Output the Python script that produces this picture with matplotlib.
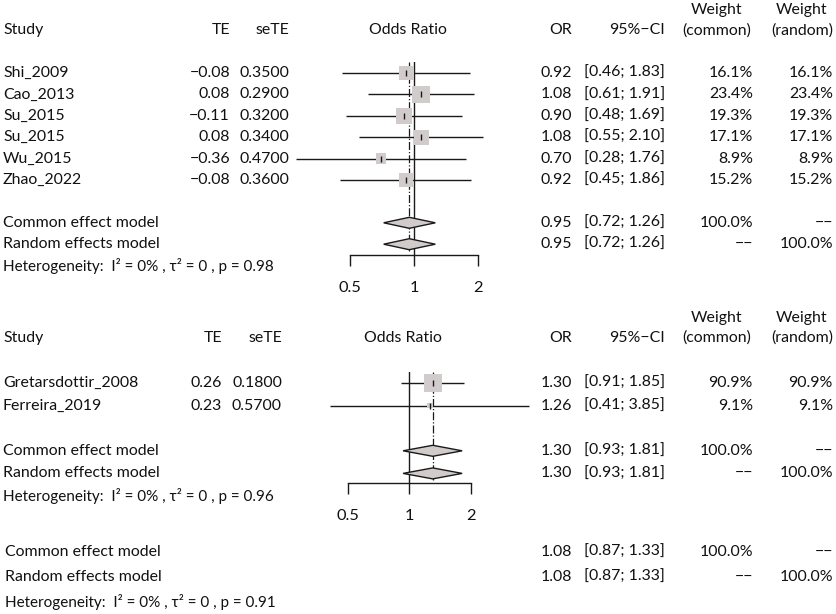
import numpy as np
import matplotlib
matplotlib.use('Agg')
import matplotlib.pyplot as plt
from matplotlib.ticker import FixedLocator, FixedFormatter, NullLocator

plt.rcParams['font.family'] = ['Lato', 'DejaVu Sans']

# ---- data: panel 1 ----
studies1 = ['Shi_2009', 'Cao_2013', 'Su_2015', 'Su_2015', 'Wu_2015', 'Zhao_2022']
te1 = [-0.08, 0.08, -0.11, 0.08, -0.36, -0.08]
sete1 = [0.35, 0.29, 0.32, 0.34, 0.47, 0.36]
or1 = [0.92, 1.08, 0.90, 1.08, 0.70, 0.92]
lo1 = [0.46, 0.61, 0.48, 0.55, 0.28, 0.45]
hi1 = [1.83, 1.91, 1.69, 2.10, 1.76, 1.86]
w1 = [16.1, 23.4, 19.3, 17.1, 8.9, 15.2]
pool1 = [0.95, 0.72, 1.26]
p_het1 = 0.98

# ---- data: panel 2 ----
studies2 = ['Gretarsdottir_2008', 'Ferreira_2019']
te2 = [0.26, 0.23]
sete2 = [0.18, 0.57]
or2 = [1.30, 1.26]
lo2 = [0.91, 0.41]
hi2 = [1.85, 3.85]
w2 = [90.9, 9.1]
pool2 = [1.30, 0.93, 1.81]
p_het2 = 0.96

# ---- overall ----
pool_all = [1.08, 0.87, 1.33]
p_het_all = 0.91

ticks = [0.5, 1, 2]
tick_labels = ['0.5', '1', '2']

W, H = 837, 614
FS = 11.4
FS_HET = 11.0
TXT = '#111111'
BOX = '#d2cbcb'
LINE = '#1a1a1a'

fig = plt.figure(figsize=(W / 100, H / 100), dpi=100)
tx = fig.add_axes([0, 0, 1, 1])
tx.set_xlim(0, W)
tx.set_ylim(H, 0)
tx.axis('off')

# column positions (px)
C_OR, C_CI, C_WC, C_WR = 572, 665, 717, 802
C_WC_R, C_WR_R = 753, 833


def fmt_num(v, nd):
    s = f'{v:.{nd}f}'
    return s.replace('-', '\u2212')


def het_text(p):
    return f'Heterogeneity:  I\u00b2 = 0% , \u03c4\u00b2 = 0 , p = {p:.2f}'


def summary_rows(y_c, y_r, y_h, pool, p, x0=3):
    tx.text(x0, y_c, 'Common effect model', fontsize=FS, va='center', color=TXT)
    tx.text(x0, y_r, 'Random effects model', fontsize=FS, va='center', color=TXT)
    tx.text(x0, y_h, het_text(p), fontsize=FS_HET, va='center', color=TXT)
    ci = f'[{pool[1]:.2f}; {pool[2]:.2f}]'
    for yy, wc, wr in [(y_c, '100.0%', '\u2212\u2212'), (y_r, '\u2212\u2212', '100.0%')]:
        tx.text(C_OR, yy, f'{pool[0]:.2f}', fontsize=FS, va='center', ha='right', color=TXT)
        tx.text(C_CI, yy, ci, fontsize=FS, va='center', ha='right', color=TXT)
        tx.text(C_WC_R, yy, wc, fontsize=FS, va='center', ha='right', color=TXT)
        tx.text(C_WR_R, yy, wr, fontsize=FS, va='center', ha='right', color=TXT)


def panel(studies, te, sete, ors, lo, hi, w, pool, p, y0, pitch,
          x_te, x_se, x_half, x_two, base_px, x_title):
    n = len(studies)
    rows = np.arange(n)
    r_c, r_r = n + 1, n + 2
    ypx = lambda r: y0 + pitch * r

    # header
    yh = ypx(-2)
    tx.text(3, yh, 'Study', fontsize=FS, va='center', color=TXT)
    tx.text(x_te, yh, 'TE', fontsize=FS, va='center', ha='right', color=TXT)
    tx.text(x_se, yh, 'seTE', fontsize=FS, va='center', ha='right', color=TXT)
    tx.text(x_title, yh, 'Odds Ratio', fontsize=FS, va='center', ha='center', color=TXT)
    tx.text(C_OR, yh, 'OR', fontsize=FS, va='center', ha='right', color=TXT)
    tx.text(C_CI, yh, '95%\u2212CI', fontsize=FS, va='center', ha='right', color=TXT)
    tx.text(C_WC, yh - 20, 'Weight', fontsize=FS, va='center', ha='center', color=TXT)
    tx.text(C_WC, yh, '(common)', fontsize=FS, va='center', ha='center', color=TXT)
    tx.text(C_WR, yh - 20, 'Weight', fontsize=FS, va='center', ha='center', color=TXT)
    tx.text(C_WR, yh, '(random)', fontsize=FS, va='center', ha='center', color=TXT)

    for i in rows:
        yy = ypx(i)
        tx.text(3, yy, studies[i], fontsize=FS, va='center', color=TXT)
        tx.text(x_te, yy, fmt_num(te[i], 2), fontsize=FS, va='center', ha='right', color=TXT)
        tx.text(x_se, yy, f'{sete[i]:.4f}', fontsize=FS, va='center', ha='right', color=TXT)
        tx.text(C_OR, yy, f'{ors[i]:.2f}', fontsize=FS, va='center', ha='right', color=TXT)
        tx.text(C_CI, yy, f'[{lo[i]:.2f}; {hi[i]:.2f}]', fontsize=FS, va='center', ha='right', color=TXT)
        tx.text(C_WC_R, yy, f'{w[i]:.1f}%', fontsize=FS, va='center', ha='right', color=TXT)
        tx.text(C_WR_R, yy, f'{w[i]:.1f}%', fontsize=FS, va='center', ha='right', color=TXT)

    summary_rows(ypx(r_c), ypx(r_r), ypx(r_r + 1), pool, p)

    # forest axes: x=0.5 at x_half px, x=2 at x_two px, bottom at axis baseline
    top_px = ypx(-0.5)
    ax = fig.add_axes([x_half / W, 1 - base_px / H, (x_two - x_half) / W, (base_px - top_px) / H])
    ax.set_xscale('log', base=2)
    ax.set_xlim(0.5, 2)
    ax.set_ylim((base_px - y0) / pitch, -0.5)
    ax.patch.set_visible(False)
    for s in ['top', 'left', 'right']:
        ax.spines[s].set_visible(False)
    ax.spines['bottom'].set_linewidth(1.0)
    ax.spines['bottom'].set_color(LINE)
    ax.xaxis.set_major_locator(FixedLocator(ticks))
    ax.xaxis.set_major_formatter(FixedFormatter(tick_labels))
    ax.xaxis.set_minor_locator(NullLocator())
    ax.tick_params(axis='x', direction='out', length=8, width=1.0, color=LINE,
                   labelsize=FS + 0.4, pad=10.5, labelcolor=TXT)
    ax.set_yticks([])

    # reference line and pooled line
    ax.axvline(1, color=LINE, lw=1.0, zorder=1)
    ax.vlines(pool[0], -0.5, r_r + 0.3, color=LINE, lw=0.9, linestyles='dashdot', zorder=1)

    # CI lines, squares, point ticks
    ax.hlines(rows, lo, hi, color=LINE, lw=1.0, clip_on=False, zorder=2)
    side = 17.5 * 0.72 * np.sqrt(np.array(w) / max(w))
    ax.scatter(ors, rows, s=side ** 2, marker='s', color=BOX, lw=0, zorder=3, clip_on=False)
    ax.scatter(ors, rows, s=22, marker='|', color=LINE, lw=1.0, zorder=4, clip_on=False)

    # diamonds
    hh = 5.5 / pitch
    for r in [r_c, r_r]:
        ax.fill([pool[1], pool[0], pool[2], pool[0]], [r, r - hh, r, r + hh],
                facecolor=BOX, edgecolor=LINE, lw=1.0, zorder=3, clip_on=False)


panel(studies1, te1, sete1, or1, lo1, hi1, w1, pool1, p_het1,
      y0=73, pitch=21.4, x_te=230, x_se=289, x_half=350, x_two=478, base_px=255, x_title=408)
panel(studies2, te2, sete2, or2, lo2, hi2, w2, pool2, p_het2,
      y0=383, pitch=22.6, x_te=222, x_se=282, x_half=348, x_two=471, base_px=483, x_title=403)

summary_rows(552, 577, 602, pool_all, p_het_all, x0=5)

fig.savefig('out.png', dpi=100)
